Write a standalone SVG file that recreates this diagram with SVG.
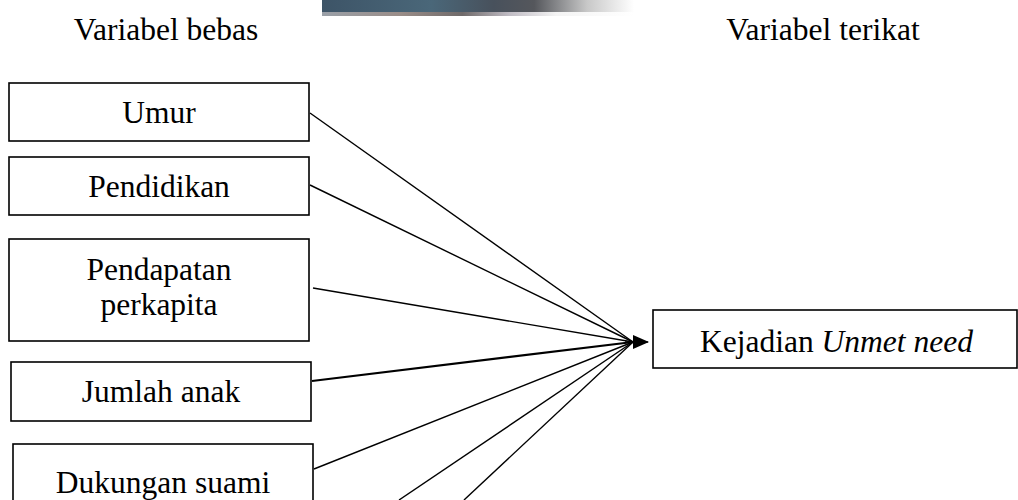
<svg xmlns="http://www.w3.org/2000/svg" width="1018" height="500" viewBox="0 0 1018 500">
<style>
.box{fill:#fff;stroke:#000;stroke-width:1.6}
.t{font-family:"Liberation Serif","Times New Roman",serif;font-size:31.5px;fill:#000}
.c{stroke:#000;stroke-width:1.4;fill:none}
</style>
<defs>
<linearGradient id="bandTop" x1="0" y1="0" x2="1" y2="0">
<stop offset="0" stop-color="#3d5467"/>
<stop offset="0.35" stop-color="#4a6779"/>
<stop offset="0.55" stop-color="#48515c"/>
<stop offset="0.68" stop-color="#55575c"/>
<stop offset="0.85" stop-color="#c8c8c8"/>
<stop offset="1" stop-color="#ffffff"/>
</linearGradient>
<linearGradient id="bandBot" x1="0" y1="0" x2="1" y2="0">
<stop offset="0" stop-color="#9aa0a8"/>
<stop offset="0.25" stop-color="#9a8d88"/>
<stop offset="0.45" stop-color="#6f6a6a"/>
<stop offset="0.6" stop-color="#c0bcc4"/>
<stop offset="0.75" stop-color="#f4f4f4"/>
<stop offset="1" stop-color="#ffffff"/>
</linearGradient>
<marker id="arr" markerWidth="16" markerHeight="14" refX="15" refY="7" orient="auto" markerUnits="userSpaceOnUse">
<path d="M0,0 L16,7 L0,14 Z" fill="#000"/>
</marker>
</defs>
<rect width="1018" height="500" fill="#fff"/>
<g id="banner">
<rect x="322" y="0" width="312" height="12" fill="url(#bandTop)"/>
<rect x="322" y="12" width="312" height="4" fill="url(#bandBot)"/>
</g>
<g id="headers">
<text class="t" x="166" y="40" text-anchor="middle">Variabel bebas</text>
<text class="t" x="823" y="40" text-anchor="middle">Variabel terikat</text>
</g>
<g id="connectors">
<line class="c" x1="310" y1="113" x2="633" y2="342"/>
<line class="c" x1="310" y1="185" x2="633" y2="342"/>
<line class="c" x1="313" y1="288" x2="633" y2="342"/>
<line class="c" x1="312" y1="381" x2="633" y2="342" style="stroke-width:2.2"/>
<line class="c" x1="314" y1="469" x2="633" y2="342"/>
<line class="c" x1="399" y1="500" x2="633" y2="342"/>
<line class="c" x1="464" y1="500" x2="633" y2="342"/>
<line class="c" x1="625" y1="342" x2="648" y2="342" marker-end="url(#arr)"/>
</g>
<g id="umur">
<rect class="box" x="9" y="83" width="300" height="58"/>
<text class="t" x="159" y="123" text-anchor="middle">Umur</text>
</g>
<g id="pendidikan">
<rect class="box" x="9" y="157" width="300" height="58"/>
<text class="t" x="159" y="197" text-anchor="middle">Pendidikan</text>
</g>
<g id="pendapatan">
<rect class="box" x="9" y="239" width="300" height="102"/>
<text class="t" x="159" y="280" text-anchor="middle">Pendapatan</text>
<text class="t" x="159" y="315" text-anchor="middle">perkapita</text>
</g>
<g id="jumlah-anak">
<rect class="box" x="11" y="362" width="300" height="59"/>
<text class="t" x="161" y="402" text-anchor="middle">Jumlah anak</text>
</g>
<g id="dukungan-suami">
<rect class="box" x="13" y="444" width="300" height="70"/>
<text class="t" x="163" y="493" text-anchor="middle">Dukungan suami</text>
</g>
<g id="kejadian">
<rect class="box" x="653" y="310" width="364" height="58"/>
<text class="t" x="700" y="352">Kejadian <tspan font-style="italic">Unmet need</tspan></text>
</g>
</svg>
